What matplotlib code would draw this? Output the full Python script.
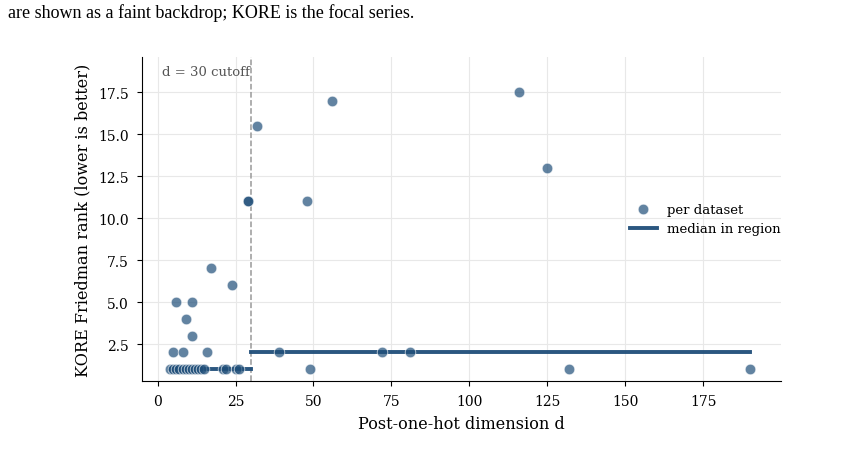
import matplotlib
matplotlib.use('Agg')
import matplotlib.pyplot as plt
import numpy as np

# KORE Friedman rank per dataset vs post-one-hot dimension d
dims = [4, 5, 6, 7, 8, 9, 10, 11, 12, 13, 14, 15, 21, 22, 25, 26,
        5, 8, 16, 11, 9, 6, 11, 24, 17, 29, 29,
        32, 39, 48, 49, 56, 72, 81, 116, 125, 132, 190]
ranks = [1, 1, 1, 1, 1, 1, 1, 1, 1, 1, 1, 1, 1, 1, 1, 1,
         2, 2, 2, 3, 4, 5, 5, 6, 7, 11, 11,
         15.5, 2, 11, 1, 17, 2, 2, 17.5, 13, 1, 1]
cutoff = 30

dims = np.array(dims)
ranks = np.array(ranks)

plt.rcParams['font.family'] = 'DejaVu Serif'
fig = plt.figure(figsize=(8.48, 4.6), dpi=100)
ax = fig.add_axes([0.1675, 0.1696, 0.7535, 0.7044])

pt_color = '#1f4e79'
ax.scatter(dims, ranks, s=58, color=pt_color, alpha=0.7, edgecolor='white',
           linewidth=0.6, zorder=3, label='per dataset')

# median in each region
left = dims <= cutoff
right = dims > cutoff
ax.plot([dims[left].min(), cutoff], [np.median(ranks[left])] * 2,
        color=pt_color, lw=2.8, alpha=0.95, zorder=2, label='median in region')
ax.plot([cutoff, dims[right].max()], [np.median(ranks[right])] * 2,
        color=pt_color, lw=2.8, alpha=0.95, zorder=2)

ax.axvline(cutoff, color='#999999', ls='--', lw=1.1, zorder=1)
ax.text(cutoff - 0.5, 0.975, 'd = 30 cutoff', transform=ax.get_xaxis_transform(),
        ha='right', va='top', fontsize=9.5, color='#555555')

ax.set_xlim(-5, 200)
ax.set_ylim(0.3, 19.6)
ax.set_xticks([0, 25, 50, 75, 100, 125, 150, 175])
ax.set_yticks([2.5, 5.0, 7.5, 10.0, 12.5, 15.0, 17.5])
ax.grid(True, color='#e8e8e8', lw=0.8)
ax.set_axisbelow(True)
for s in ['top', 'right']:
    ax.spines[s].set_visible(False)
ax.tick_params(labelsize=10, pad=6)
ax.set_xlabel('Post-one-hot dimension d', fontsize=11.6, labelpad=5)
ax.set_ylabel('KORE Friedman rank (lower is better)', fontsize=11.6, labelpad=5)
ax.legend(loc='center right', bbox_to_anchor=(1.008, 0.5), frameon=False,
          fontsize=9.5, borderaxespad=0)

fig.text(0.009, 0.972, 'are shown as a faint backdrop; KORE is the focal series.',
         family='Liberation Serif', fontsize=13, va='center', ha='left')

fig.savefig('out.png', dpi=100)
